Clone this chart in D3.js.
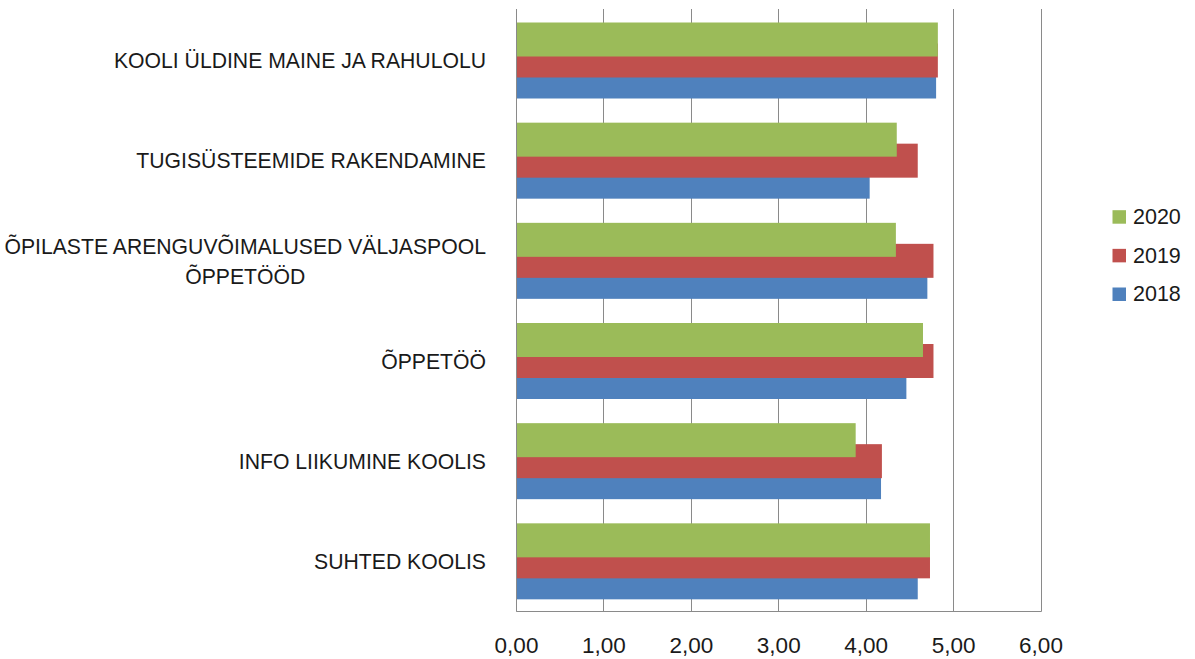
<!DOCTYPE html>
<html>
<head>
<meta charset="utf-8">
<script src="https://cdn.jsdelivr.net/npm/d3@7/dist/d3.min.js"></script>
<style>
  html, body { margin: 0; padding: 0; background: #ffffff; }
  svg { display: block; }
  text { font-family: "Liberation Sans", Arial, sans-serif; fill: #1a1a1a; }
</style>
</head>
<body>
<svg id="chart" width="1195" height="659"></svg>
<script>
const categories = [
  "KOOLI ÜLDINE MAINE JA RAHULOLU",
  "TUGISÜSTEEMIDE RAKENDAMINE",
  "ÕPILASTE ARENGUVÕIMALUSED VÄLJASPOOL ÕPPETÖÖD",
  "ÕPPETÖÖ",
  "INFO LIIKUMINE KOOLIS",
  "SUHTED KOOLIS"
];
const seriesNames = ["2020", "2019", "2018"];
const values2020 = [4.82, 4.35, 4.34, 4.65, 3.88, 4.73];
const values2019 = [4.82, 4.59, 4.77, 4.77, 4.18, 4.73];
const values2018 = [4.80, 4.04, 4.70, 4.46, 4.17, 4.59];
const seriesColors = ["#9BBB59", "#C0504D", "#4F81BD"];
const tickValues = [0, 1, 2, 3, 4, 5, 6];

const seriesValues = [values2020, values2019, values2018];

const svg = d3.select("#chart");
const plotLeft = 516, plotRight = 1040.5, plotTop = 10.5, plotBottom = 611.5;

const x = d3.scaleLinear().domain([0, 6]).range([plotLeft, plotRight]);
const y = d3.scaleBand().domain(categories).range([plotTop, plotBottom]).padding(0);
const barH = 34;
const ySub = d3.scalePoint().domain(seriesNames).range([12, 54]);
const color = d3.scaleOrdinal().domain(seriesNames).range(seriesColors);

// gridlines
svg.append("g")
  .selectAll("line")
  .data(tickValues)
  .join("line")
  .attr("x1", d => Math.round(x(d)) + 0.5)
  .attr("x2", d => Math.round(x(d)) + 0.5)
  .attr("y1", 9)
  .attr("y2", plotBottom)
  .attr("stroke", "#8a8a8a")
  .attr("stroke-width", 1);

// bars: draw 2018 first, 2020 last (on top)
const drawOrder = [2, 1, 0];
drawOrder.forEach(si => {
  const name = seriesNames[si];
  svg.append("g")
    .selectAll("rect")
    .data(categories.map((c, i) => ({ c, v: seriesValues[si][i] })))
    .join("rect")
    .attr("x", x(0) + 0.5)
    .attr("y", d => y(d.c) + ySub(name))
    .attr("width", d => x(d.v) - x(0))
    .attr("height", barH)
    .attr("fill", color(name));
});

// axis lines
svg.append("line")
  .attr("x1", Math.round(x(0)) + 0.5).attr("x2", Math.round(x(6)) + 0.5)
  .attr("y1", plotBottom).attr("y2", plotBottom)
  .attr("stroke", "#8a8a8a").attr("stroke-width", 1);
svg.append("line")
  .attr("x1", Math.round(x(0)) + 0.5).attr("x2", Math.round(x(0)) + 0.5)
  .attr("y1", 9).attr("y2", plotBottom)
  .attr("stroke", "#8a8a8a").attr("stroke-width", 1);

// x axis labels
const xAxis = d3.axisBottom(x)
  .tickValues(tickValues)
  .tickSize(0)
  .tickPadding(0)
  .tickFormat(d => d.toFixed(2).replace(".", ","));
const gx = svg.append("g")
  .attr("transform", `translate(0,${plotBottom})`)
  .call(xAxis);
gx.select(".domain").remove();
gx.selectAll("text")
  .attr("dy", null)
  .attr("y", 41.5)
  .style("font-size", "22.5px")
  .style("font-family", "'Liberation Sans', Arial, sans-serif")
  .attr("fill", "#1a1a1a");

// category labels with wrapping
const labelRight = 486;
const maxW = 490;
const fs = 21.2;
const gy = svg.append("g");
categories.forEach(c => {
  const cy = y(c) + y.bandwidth() / 2;
  const words = c.split(" ");
  const tmp = gy.append("text").style("font-size", fs + "px");
  const lines = [];
  let cur = [];
  words.forEach(w => {
    const trial = cur.concat([w]).join(" ");
    tmp.text(trial);
    if (tmp.node().getComputedTextLength() > maxW && cur.length) {
      lines.push(cur.join(" "));
      cur = [w];
    } else {
      cur.push(w);
    }
  });
  lines.push(cur.join(" "));
  let widest = 0;
  lines.forEach(l => { tmp.text(l); widest = Math.max(widest, tmp.node().getComputedTextLength()); });
  tmp.remove();
  const lh = 30;
  const cx = labelRight - widest / 2;
  lines.forEach((l, k) => {
    const capCenter = cy + (k - (lines.length - 1) / 2) * lh;
    gy.append("text")
      .attr("x", cx)
      .attr("y", capCenter + 7.7)
      .attr("text-anchor", "middle")
      .style("font-size", fs + "px")
      .text(l);
  });
});

// legend
const legendY = d3.scalePoint().domain(seriesNames).range([216.7, 294]);
const lg = svg.append("g");
seriesNames.forEach(name => {
  lg.append("rect")
    .attr("x", 1112.5)
    .attr("y", legendY(name) - 6.5)
    .attr("width", 13.5)
    .attr("height", 13.5)
    .attr("fill", color(name));
  lg.append("text")
    .attr("x", 1133)
    .attr("y", legendY(name) + 7.3)
    .style("font-size", "21.5px")
    .text(name);
});
</script>
</body>
</html>
